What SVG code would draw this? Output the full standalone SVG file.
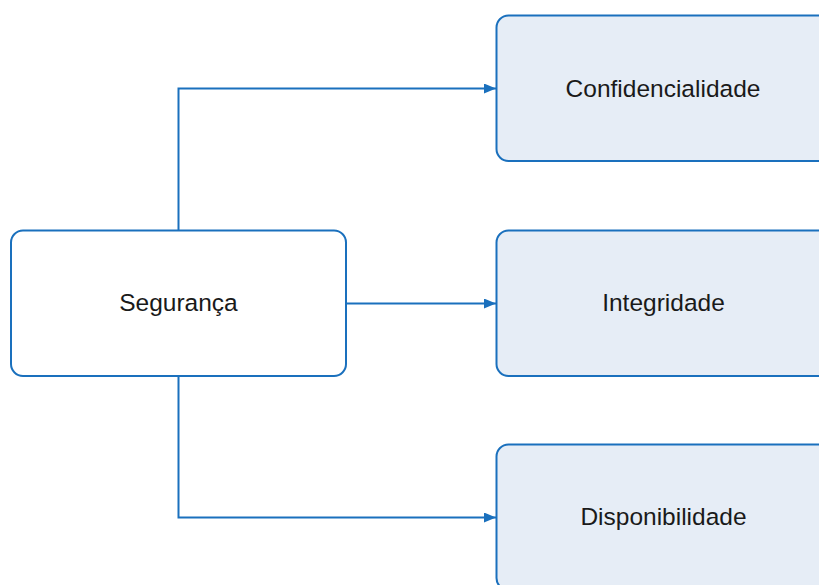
<svg xmlns="http://www.w3.org/2000/svg" width="819" height="585" viewBox="0 0 819 585">
  <defs>
    <marker id="arrow" markerWidth="12" markerHeight="10" refX="12" refY="5" orient="auto" markerUnits="userSpaceOnUse">
      <path d="M0,0 L12,5 L0,10 Z" fill="#1a70bd"/>
    </marker>
    <style>
      .box { stroke: #1a70bd; stroke-width: 2; }
      .root { fill: #ffffff; }
      .leaf { fill: #e6edf6; }
      .label { font-family: "Liberation Sans", Arial, sans-serif; font-size: 24.5px; fill: #1a1a1a; text-anchor: middle; }
      .edge { fill: none; stroke: #1a70bd; stroke-width: 2; }
    </style>
  </defs>
  <rect width="819" height="585" fill="#ffffff"/>

  <g id="edges">
    <polyline class="edge" points="178.5,230 178.5,88.5 496,88.5" marker-end="url(#arrow)"/>
    <polyline class="edge" points="346,303.5 496,303.5" marker-end="url(#arrow)"/>
    <polyline class="edge" points="178.5,376 178.5,517.5 496,517.5" marker-end="url(#arrow)"/>
  </g>

  <g id="seguranca">
    <rect class="box root" x="11" y="230.5" width="335" height="145.5" rx="12"/>
    <text class="label" x="178.5" y="310.5">Segurança</text>
  </g>

  <g id="confidencialidade">
    <rect class="box leaf" x="496.5" y="15.5" width="335" height="145.5" rx="12"/>
    <text class="label" x="663" y="96.5">Confidencialidade</text>
  </g>

  <g id="integridade">
    <rect class="box leaf" x="496.5" y="230.5" width="335" height="145.5" rx="12"/>
    <text class="label" x="663.5" y="310.5">Integridade</text>
  </g>

  <g id="disponibilidade">
    <rect class="box leaf" x="496.5" y="444.5" width="335" height="145.5" rx="12"/>
    <text class="label" x="663.5" y="524.5">Disponibilidade</text>
  </g>
</svg>
